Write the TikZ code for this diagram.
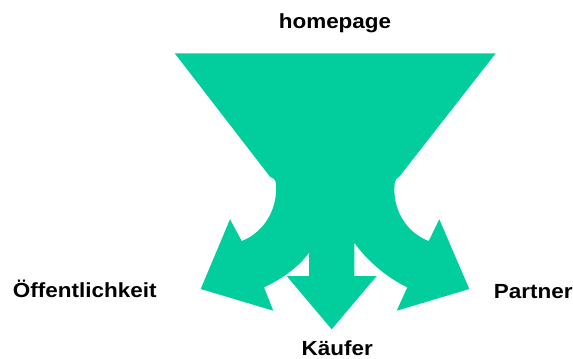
\documentclass[tikz,border=0pt]{standalone}
\usepackage{fontspec}
\setmainfont{Liberation Sans}
\definecolor{flowgreen}{RGB}{2,206,157}
\newcommand{\widelbl}[1]{\scalebox{1.1}[1]{#1}}
\begin{document}
\begin{tikzpicture}[x=1bp,y=-1bp,
  lbl/.style={font=\fontsize{20.5}{24}\selectfont\bfseries, inner sep=0pt, anchor=base}]
\useasboundingbox (0,0) rectangle (573,358);
% funnel splitting into three arrows
\fill[flowgreen]
  (174.7,53.3) -- (495.7,53.3) -- (399.3,176.7)
  .. controls (396,179) .. (394.7,183)
  .. controls (392,208) and (405,232) .. (428.7,241)
  -- (439.3,219.3) -- (469.3,289) -- (396.7,310.7) -- (407.3,287.3)
  .. controls (385,277) and (365,258) .. (354.3,242.7)
  -- (354.3,276) -- (376.7,276) -- (331.7,329.3) -- (286.7,276) -- (309,276)
  -- (309,252.7)
  .. controls (298,268) and (280,280) .. (264,287.3)
  -- (273.3,310.7) -- (200.7,289) -- (230,219.3) -- (241.7,241)
  .. controls (265,232) and (278,208) .. (276,183)
  .. controls (274.5,179) .. (270,176.7) -- cycle;
% labels
\node[lbl] (home) at (335,28.3) {\widelbl{homepage}};
\node[lbl] (public) at (84.7,297.3) {\widelbl{Öffentlichkeit}};
\node[lbl] (partner) at (533.3,298) {\widelbl{Partner}};
\node[lbl] (buyer) at (337.3,355) {\widelbl{Käufer}};
\end{tikzpicture}
\end{document}
